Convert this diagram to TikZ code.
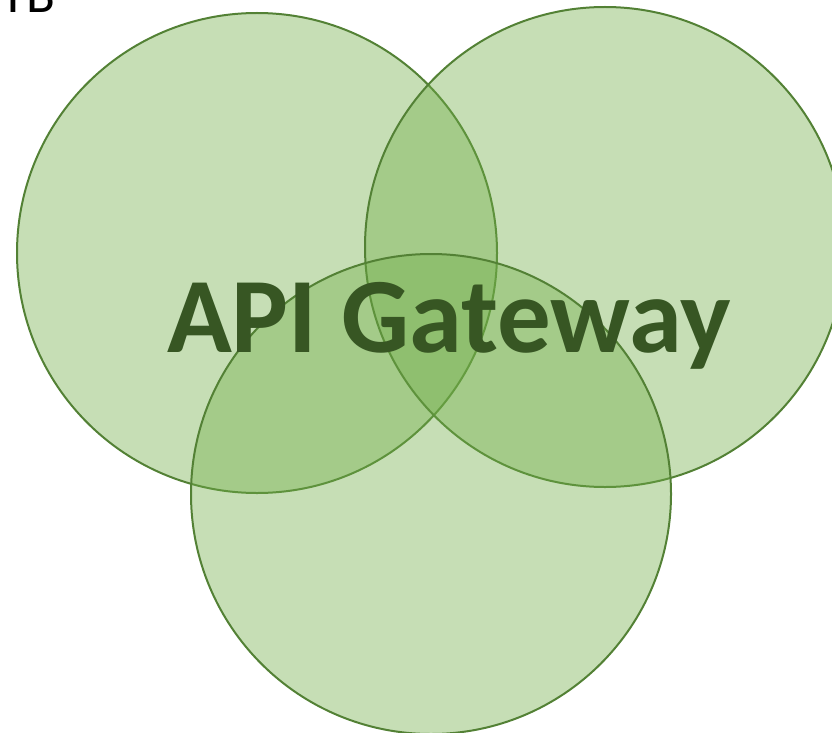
\documentclass[tikz,border=0pt]{standalone}
\usepackage{fontspec}
\setmainfont{Carlito}
\definecolor{vennfill}{HTML}{70AD47}
\definecolor{vennline}{HTML}{538135}
\definecolor{venntext}{HTML}{375623}
\begin{document}
\begin{tikzpicture}[
      x=1pt, y=-1pt,
      venn/.style = {shape=circle, draw=vennline, line width=2pt, fill=vennfill, fill opacity=0.4, minimum size=480pt, inner sep=0pt},
      title/.style = {font=\fontsize{107}{107}\selectfont\bfseries, text=venntext, anchor=base, inner sep=0pt}
      ]
      \useasboundingbox (0,0) rectangle (832,733);
      \node[font=\fontsize{53}{53}\selectfont, anchor=base west, inner sep=0pt] (dir) at (0,13) {TB};
      \node[venn] (left) at (257,253) {};
      \node[venn] (right) at (605,247) {};
      \node[venn] (bottom) at (431,494) {};
      \node[title] (gateway) at (449,352) {API Gateway};
    \end{tikzpicture}
\end{document}
